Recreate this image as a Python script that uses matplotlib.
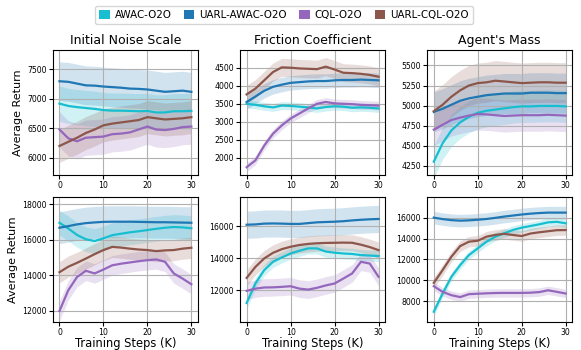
import numpy as np
import matplotlib
matplotlib.use('Agg')
import matplotlib.pyplot as plt
from matplotlib.patches import Patch

# pasos de entrenamiento (K), cada 2K
steps = [0, 2, 4, 6, 8, 10, 12, 14, 16, 18, 20, 22, 24, 26, 28, 30]

labels = ['AWAC-O2O', 'UARL-AWAC-O2O', 'CQL-O2O', 'UARL-CQL-O2O']
colors = ['#17becf', '#1f77b4', '#9467bd', '#8c564b']
titles = ['Initial Noise Scale', 'Friction Coefficient', "Agent's Mass"]

# Fila superior -------------------------------------------------------------
noise_awac = [6920, 6880, 6860, 6845, 6830, 6810, 6800, 6800, 6795, 6790, 6795, 6770, 6770, 6790, 6790, 6795]
noise_uarl_awac = [7300, 7290, 7260, 7230, 7225, 7210, 7200, 7190, 7175, 7170, 7160, 7140, 7120, 7130, 7140, 7120]
noise_cql = [6480, 6330, 6280, 6340, 6350, 6360, 6400, 6410, 6430, 6480, 6530, 6480, 6470, 6490, 6520, 6530]
noise_uarl_cql = [6200, 6270, 6340, 6420, 6480, 6550, 6580, 6600, 6620, 6640, 6690, 6670, 6650, 6660, 6670, 6690]
noise_std = [300, 330, 300, 280]

fric_awac = [3500, 3470, 3430, 3400, 3450, 3440, 3420, 3400, 3370, 3410, 3430, 3420, 3390, 3400, 3390, 3370]
fric_uarl_awac = [3550, 3700, 3860, 3970, 4030, 4080, 4100, 4120, 4130, 4130, 4150, 4160, 4160, 4170, 4160, 4150]
fric_cql = [1740, 1930, 2340, 2670, 2900, 3090, 3230, 3370, 3500, 3550, 3510, 3500, 3490, 3470, 3460, 3450]
fric_uarl_cql = [3760, 3920, 4150, 4380, 4510, 4500, 4480, 4470, 4460, 4530, 4450, 4360, 4350, 4330, 4300, 4250]
fric_std = [110, 200, 120, 250]

mass_awac = [4300, 4530, 4690, 4790, 4860, 4910, 4935, 4950, 4965, 4980, 4990, 4990, 4995, 4995, 4995, 4990]
mass_uarl_awac = [4920, 4960, 5010, 5060, 5090, 5110, 5130, 5140, 5150, 5150, 5150, 5160, 5160, 5160, 5155, 5155]
mass_cql = [4700, 4760, 4820, 4850, 4875, 4895, 4890, 4880, 4870, 4875, 4880, 4880, 4880, 4885, 4880, 4875]
mass_uarl_cql = [4930, 5010, 5110, 5190, 5250, 5280, 5290, 5310, 5300, 5290, 5280, 5285, 5290, 5290, 5285, 5285]
mass_std = [200, 250, 200, 250]

# Fila inferior -------------------------------------------------------------
noise2_awac = [16960, 16640, 16270, 16030, 15930, 16080, 16260, 16340, 16420, 16480, 16550, 16620, 16680, 16720, 16700, 16650]
noise2_uarl_awac = [16680, 16770, 16870, 16940, 16980, 17010, 17020, 17020, 17020, 17010, 17000, 16990, 16990, 16980, 16970, 16960]
noise2_cql = [11980, 13150, 13900, 14250, 14100, 14320, 14560, 14650, 14720, 14790, 14850, 14890, 14760, 14100, 13810, 13490]
noise2_uarl_cql = [14170, 14480, 14700, 14940, 15190, 15420, 15600, 15560, 15500, 15450, 15420, 15360, 15400, 15420, 15500, 15550]
noise2_std = [700, 900, 550, 600]

fric2_awac = [11200, 12420, 13260, 13780, 14050, 14300, 14470, 14620, 14620, 14420, 14350, 14300, 14270, 14200, 14170, 14140]
fric2_uarl_awac = [16100, 16120, 16170, 16180, 16170, 16150, 16150, 16200, 16250, 16270, 16290, 16320, 16370, 16410, 16440, 16460]
fric2_cql = [11960, 12100, 12170, 12180, 12210, 12250, 12100, 12040, 12150, 12300, 12420, 12730, 13050, 13780, 13670, 12840]
fric2_uarl_cql = [12770, 13460, 13990, 14340, 14570, 14720, 14830, 14900, 14940, 14960, 14970, 14980, 14970, 14850, 14700, 14510]
fric2_std = [350, 850, 550, 500]

mass2_awac = [7000, 8740, 10340, 11460, 12420, 13060, 13700, 14180, 14500, 14820, 15040, 15200, 15360, 15550, 15600, 15460]
mass2_uarl_awac = [16000, 15860, 15760, 15710, 15740, 15800, 15870, 15980, 16100, 16200, 16300, 16380, 16440, 16480, 16480, 16480]
mass2_cql = [9440, 8900, 8580, 8400, 8680, 8720, 8760, 8790, 8800, 8800, 8800, 8820, 8880, 9050, 8900, 8740]
mass2_uarl_cql = [9760, 10980, 12260, 13280, 13700, 13790, 14180, 14350, 14450, 14340, 14240, 14480, 14600, 14700, 14800, 14810]
mass2_std = [400, 600, 400, 500]

paneles = [
    [([noise_awac, noise_uarl_awac, noise_cql, noise_uarl_cql], noise_std, (5710, 7830), [6000, 6500, 7000, 7500]),
     ([fric_awac, fric_uarl_awac, fric_cql, fric_uarl_cql], fric_std, (1530, 4990), [2000, 2500, 3000, 3500, 4000, 4500]),
     ([mass_awac, mass_uarl_awac, mass_cql, mass_uarl_cql], mass_std, (4137, 5692), [4250, 4500, 4750, 5000, 5250, 5500])],
    [([noise2_awac, noise2_uarl_awac, noise2_cql, noise2_uarl_cql], noise2_std, (11360, 18400), [12000, 14000, 16000, 18000]),
     ([fric2_awac, fric2_uarl_awac, fric2_cql, fric2_uarl_cql], fric2_std, (10010, 17820), [12000, 14000, 16000]),
     ([mass2_awac, mass2_uarl_awac, mass2_cql, mass2_uarl_cql], mass2_std, (6016, 17950), [8000, 10000, 12000, 14000, 16000])],
]

fig, axes = plt.subplots(2, 3, figsize=(5.81, 3.5), dpi=100)
fig.subplots_adjust(left=0.091, right=0.985, bottom=0.08, top=0.857, wspace=0.29, hspace=0.18)

x = np.array(steps)
for r in range(2):
    for c in range(3):
        ax = axes[r, c]
        series, stds, ylim, yticks = paneles[r][c]
        for serie, std, color in zip(series, stds, colors):
            y = np.array(serie)
            ax.fill_between(x, y - std, y + std, color=color, alpha=0.2, linewidth=0)
            ax.plot(x, y, color=color, linewidth=1.6)
        ax.set_ylim(*ylim)
        ax.set_xlim(-1.5, 31.5)
        ax.set_xticks([0, 10, 20, 30])
        ax.set_yticks(yticks)
        ax.tick_params(labelsize=5.6, length=3, pad=1.5)
        ax.grid(True, color='#b0b0b0', linewidth=0.8)
        if r == 0:
            ax.set_title(titles[c], fontsize=9, pad=4)
        else:
            ax.set_xlabel('Training Steps (K)', fontsize=8.3, labelpad=0)
        if c == 0:
            ax.set_ylabel('Average Return', fontsize=8, labelpad=3)

# Leyenda comun arriba
handles = [Patch(facecolor=col, label=lab) for col, lab in zip(colors, labels)]
fig.legend(handles=handles, loc='center', bbox_to_anchor=(0.489, 0.957), ncol=4,
           fontsize=7.4, handlelength=1.0, handleheight=1.0, handletextpad=0.5,
           columnspacing=1.2, borderpad=0.4, frameon=True, edgecolor='#cccccc')

plt.savefig('out.png', dpi=100)
